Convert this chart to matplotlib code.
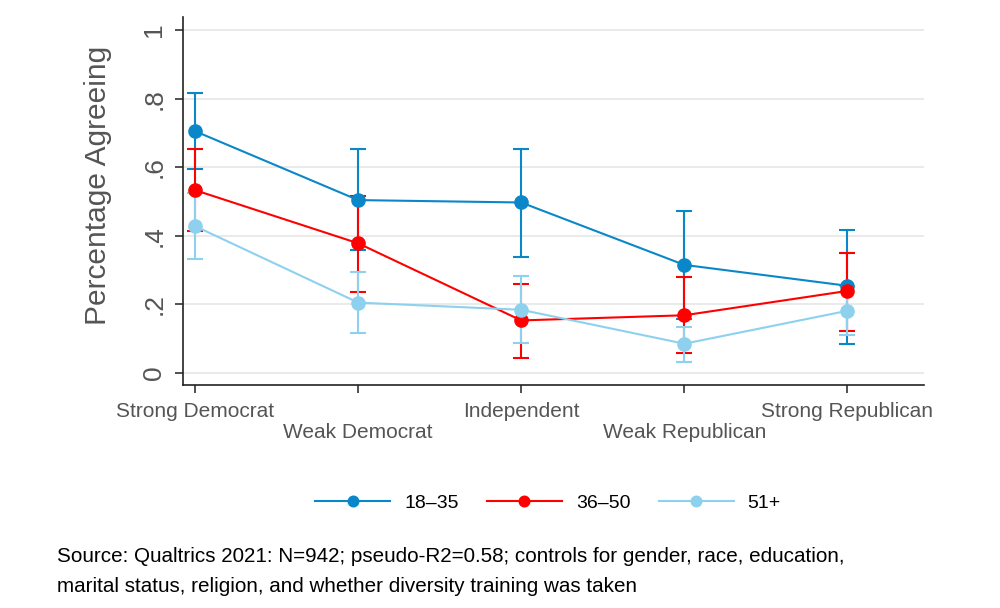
import matplotlib
matplotlib.use("Agg")
import matplotlib.pyplot as plt
import numpy as np

plt.rcParams['font.family'] = ['Liberation Sans', 'DejaVu Sans']

categories = ["Strong Democrat", "Weak Democrat", "Independent", "Weak Republican", "Strong Republican"]
groups = ["18\u201335", "36\u201350", "51+"]

est_18_35 = [0.705, 0.504, 0.497, 0.315, 0.254]
lo_18_35 = [0.595, 0.357, 0.338, 0.157, 0.085]
hi_18_35 = [0.815, 0.652, 0.653, 0.471, 0.418]

est_36_50 = [0.533, 0.378, 0.153, 0.168, 0.239]
lo_36_50 = [0.414, 0.237, 0.042, 0.058, 0.123]
hi_36_50 = [0.652, 0.516, 0.260, 0.279, 0.351]

est_51 = [0.428, 0.205, 0.184, 0.085, 0.181]
lo_51 = [0.332, 0.116, 0.087, 0.033, 0.109]
hi_51 = [0.524, 0.295, 0.283, 0.133, 0.253]

colors = ["#0a87c9", "#ff0000", "#8dd1ee"]

fig = plt.figure(figsize=(10, 6.08), dpi=100)
ax = fig.add_axes([0.183, 0.367, 0.741, 0.605])

x = np.arange(len(categories))
series = [(est_18_35, lo_18_35, hi_18_35), (est_36_50, lo_36_50, hi_36_50), (est_51, lo_51, hi_51)]
handles = []
for (est, lo, hi), c, g in zip(series, colors, groups):
    est = np.array(est); lo = np.array(lo); hi = np.array(hi)
    ax.errorbar(x, est, yerr=[est - lo, hi - est], fmt='none', ecolor=c,
                elinewidth=1.5, capsize=5.5, capthick=1.5, zorder=3)
    h, = ax.plot(x, est, '-o', color=c, lw=1.5, ms=9.5, label=g, zorder=4)
    handles.append(h)

ax.set_xlim(-0.074, 4.47)
ax.set_ylim(-0.035, 1.038)
ax.set_yticks([0, 0.2, 0.4, 0.6, 0.8, 1.0])
ax.set_yticklabels(["0", ".2", ".4", ".6", ".8", "1"], rotation=90, va='center',
                   fontsize=19, color='#555555')
ax.set_xticks(x)
labels = ax.set_xticklabels(categories, fontsize=15, color='#555555')
for i, lab in enumerate(labels):
    if i % 2 == 1:
        lab.set_y(-0.058)
ax.tick_params(axis='x', length=6, width=1.2, color='#333333', pad=6)
ax.tick_params(axis='y', length=6, width=1.2, color='#333333', pad=6)
ax.set_ylabel("Percentage Agreeing", fontsize=21.5, color='#555555', labelpad=22, y=0.543)

ax.grid(axis='y', color='#e6e6e6', lw=1.2, zorder=0)
ax.set_axisbelow(True)
for s in ['top', 'right']:
    ax.spines[s].set_visible(False)
for s in ['left', 'bottom']:
    ax.spines[s].set_color('#222222')
    ax.spines[s].set_linewidth(1.2)

fig.legend(handles=handles, labels=groups, loc='center', bbox_to_anchor=(0.548, 0.173),
           ncol=3, frameon=False, fontsize=14, handlelength=3.86, columnspacing=1.45,
           handletextpad=0.72, markerscale=0.8)

fig.text(0.057, 0.084, "Source: Qualtrics 2021: N=942; pseudo-R2=0.58; controls for gender, race, education,",
         fontsize=14.9, color='black', va='center')
fig.text(0.057, 0.035, "marital status, religion, and whether diversity training was taken",
         fontsize=14.9, color='black', va='center')

fig.savefig("out.png", dpi=100)
